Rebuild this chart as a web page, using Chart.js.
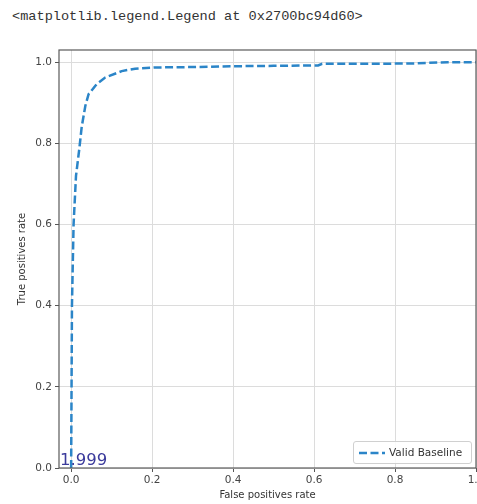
<!DOCTYPE html>
<html>
<head>
	<title>ROC curve</title>
	<style>
		body
		{
			margin: 0;
			width: 477px;
			height: 504px;
			overflow: hidden;
			background: #ffffff;
			position: relative;
			font-family: "DejaVu Sans", sans-serif;
		}

		.outText
		{
			position: absolute;
			left: 12px;
			top: 9px;
			font-family: "Liberation Mono", monospace;
			font-size: 13.6px;
			color: #333333;
		}

		#chart
		{
			position: absolute;
			left: 0;
			top: 0;
		}

		.legendBox
		{
			position: absolute;
			left: 353px;
			top: 441px;
			width: 117px;
			height: 21px;
			border: 1px solid #d0d0d0;
			border-radius: 3px;
			background: rgba(255,255,255,0.85);
			font-size: 10.5px;
			color: #333333;
			line-height: 21px;
			white-space: nowrap;
		}

		.legendBox svg
		{
			position: absolute;
			left: 5px;
			top: 9px;
		}

		.legendBox span
		{
			position: absolute;
			left: 35px;
		}

		.note
		{
			position: absolute;
			left: 60px;
			top: 450px;
			font-size: 16.5px;
			color: #3b3b9c;
		}
	</style>
</head>
<body>
	<div class="outText">&lt;matplotlib.legend.Legend at 0x2700bc94d60&gt;</div>

	<canvas id="chart" width="500" height="504"></canvas>

	<!-- legend box in the lower right corner, like matplotlib's loc="lower right" -->
	<div class="legendBox">
		<svg width="26" height="4"><line x1="0" y1="2" x2="26" y2="2" stroke="#2b85c8" stroke-width="2.5" stroke-dasharray="8,3.5"></line></svg>
		<span id="legendText"></span>
	</div>

	<div class="note">1.999</div>

	<script src="https://cdn.jsdelivr.net/npm/chart.js@4.4.1/dist/chart.umd.min.js"></script>
	<script>
		// data
		var seriesLabel = "Valid Baseline";
		var fpr = [0, 0.001, 0.002, 0.006, 0.012, 0.02, 0.026, 0.035, 0.043, 0.063, 0.084, 0.125, 0.158, 0.207, 0.3, 0.4, 0.5, 0.61, 0.62, 0.75, 0.85, 0.93, 1.0];
		var tpr = [0, 0.2, 0.4, 0.6, 0.72, 0.785, 0.84, 0.892, 0.921, 0.946, 0.962, 0.978, 0.984, 0.987, 0.988, 0.99, 0.991, 0.992, 0.996, 0.996, 0.997, 1.0, 1.0];
		var xTicks = [0, 0.2, 0.4, 0.6, 0.8, 1.0];
		var yTicks = [0, 0.2, 0.4, 0.6, 0.8, 1.0];

		document.getElementById("legendText").textContent = seriesLabel;

		var points = fpr.map(function (x, i) { return {x: x, y: tpr[i]}; });

		// frame round the plot area (matplotlib draws all four spines)
		var framePlugin = {
			id: "frame",
			afterDraw: function (chart) {
				var a = chart.chartArea;
				var c = chart.ctx;
				c.save();
				c.strokeStyle = "#5a5a5a";
				c.lineWidth = 1.2;
				c.strokeRect(a.left, a.top, a.right - a.left, a.bottom - a.top);
				c.restore();
			}
		};

		var tickFont = {family: "DejaVu Sans", size: 10.5};

		var ctx = document.getElementById("chart").getContext("2d");
		var chart = new Chart(ctx, {
			type: "line",
			data: {
				datasets: [{
					label: seriesLabel,
					data: points,
					borderColor: "#2b85c8",
					borderWidth: 2.5,
					borderDash: [8, 3.5],
					pointRadius: 0,
					tension: 0,
					fill: false
				}]
			},
			options: {
				responsive: false,
				animation: false,
				devicePixelRatio: 1,
				layout: {padding: {top: 50, right: 24, left: 0, bottom: 0}},
				plugins: {
					legend: {display: false},
					tooltip: {enabled: false}
				},
				scales: {
					x: {
						type: "linear",
						min: -0.03,
						max: 1.0,
						afterBuildTicks: function (s) { s.ticks = xTicks.map(function (v) { return {value: v}; }); },
						afterFit: function (s) { s.height = 36; },
						grid: {color: "#dcdcdc", tickColor: "#555555", tickLength: 4, drawOnChartArea: true},
						border: {display: false},
						ticks: {
							color: "#444444",
							font: tickFont,
							padding: 2,
							maxRotation: 0,
							callback: function (v) { return v.toFixed(1); }
						},
						title: {
							display: true,
							text: "False positives rate",
							color: "#333333",
							font: {family: "DejaVu Sans", size: 10},
							padding: {top: 0, bottom: 3}
						}
					},
					y: {
						type: "linear",
						min: 0,
						max: 1.03,
						afterBuildTicks: function (s) { s.ticks = yTicks.map(function (v) { return {value: v}; }); },
						afterFit: function (s) { s.width = 59; },
						grid: {color: "#dcdcdc", tickColor: "#555555", tickLength: 4},
						border: {display: false},
						ticks: {
							color: "#444444",
							font: tickFont,
							padding: 3,
							callback: function (v) { return v.toFixed(1); }
						},
						title: {
							display: true,
							text: "True positives rate",
							color: "#333333",
							font: {family: "DejaVu Sans", size: 10},
							padding: {top: 16, bottom: 0}
						}
					}
				}
			},
			plugins: [framePlugin]
		});
	</script>
</body>
</html>
